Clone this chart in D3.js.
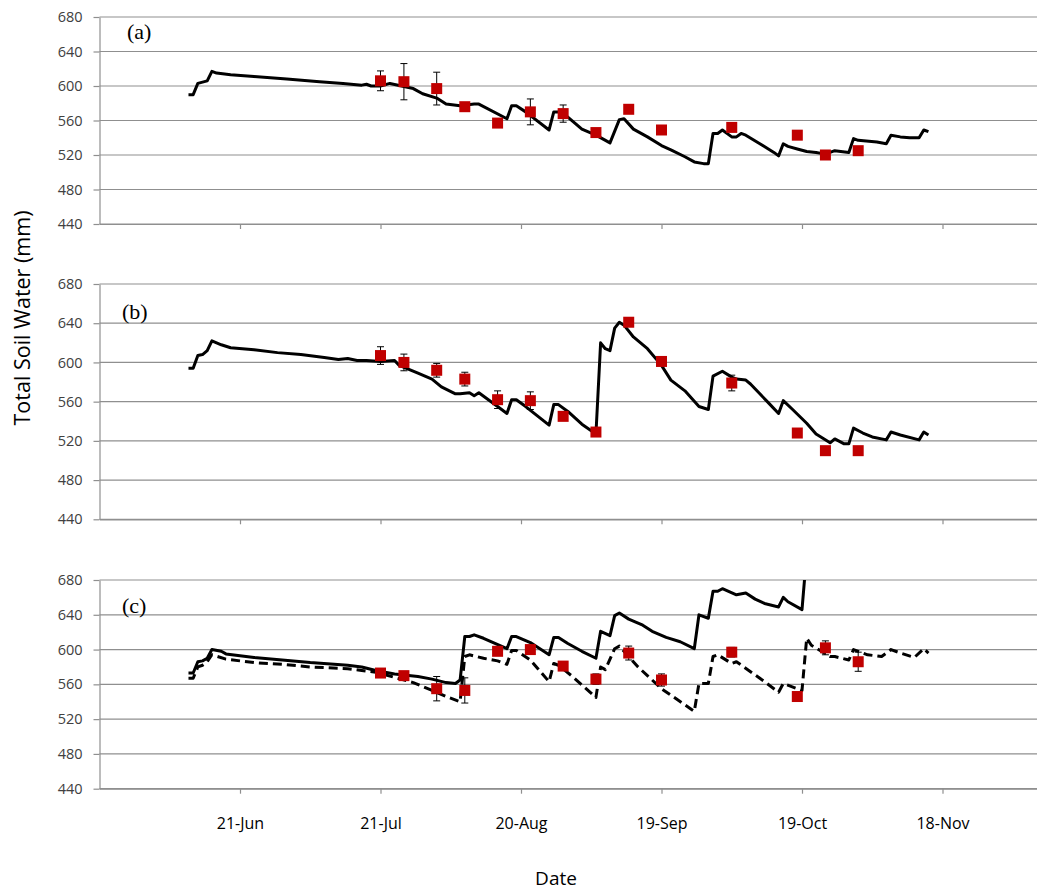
<!DOCTYPE html>
<html>
<head>
<meta charset="utf-8">
<script src="https://cdn.jsdelivr.net/npm/d3@7"></script>
<style>
  html, body { margin: 0; padding: 0; background: #fff; }
  svg { display: block; }
</style>
</head>
<body>
<svg id="chart" width="1037" height="893"></svg>
<script>
// x values are day of year (2010)
const tickDays   = [172, 202, 232, 262, 292, 322];
const tickLabels = ["21-Jun", "21-Jul", "20-Aug", "19-Sep", "19-Oct", "18-Nov"];
const yTicks     = [440, 480, 520, 560, 600, 640, 680];

// measurement dates (day of year)
const obsDays = [202, 207, 214, 220, 227, 234, 241, 248, 255, 262, 277, 291, 297, 304];

// (a) simulated total soil water, measured mean and error
const modelA = [[161,590],[162,590],[163,603],[165,606],[166,617],[167,615],[170,613],[175,611],[182,608],[189,605],[194,603],[198,601],[199,602],[200,600],[202,600],[204,603],[209,597],[211,591],[214,586],[216,579],[219,577],[222,579],[223,579],[229,562],[230,577],[231,577],[233,570],[238,549],[239,570],[240,570],[242,564],[245,550],[248,543],[251,534],[253,561],[254,562],[256,550],[259,541],[262,531],[264,526],[267,518],[269,512],[271,510],[272,510],[273,545],[274,545],[275,549],[277,541],[278,541],[279,545],[280,543],[283,533],[286,523],[287,519],[288,533],[289,530],[291,527],[293,524],[295,523],[297,521],[299,525],[302,523],[303,539],[304,537],[308,535],[310,533],[311,543],[313,541],[315,540],[317,540],[318,549],[319,547]];
const obsA = [606, 605, 597, 576, 557, 570, 568, 546, 573, 549, 552, 543, 520, 525];
const errA = [11.5, 21, 19, 2, 2, 15, 10, 2, 2, 2, 2, 2, 2, 2];

// (b)
const modelB = [[161,594],[162,594],[163,607],[164,608],[165,612],[166,622],[168,618],[170,615],[175,613],[180,610],[185,608],[190,605],[193,603],[195,604],[197,602],[199,602],[202,601],[205,602],[206,597],[210,589],[213,583],[215,575],[218,568],[219,568],[221,569],[222,566],[223,569],[227,555],[229,548],[230,562],[231,562],[233,555],[238,536],[239,557],[240,557],[242,550],[245,537],[248,527],[249,620],[250,614],[251,612],[252,635],[253,641],[254,638],[256,626],[259,614],[262,597],[264,582],[267,571],[270,555],[272,552],[273,586],[275,591],[277,585],[278,583],[280,582],[281,578],[283,568],[285,558],[287,548],[288,561],[290,552],[293,538],[295,527],[298,518],[299,522],[301,517],[302,517],[303,533],[305,528],[307,524],[310,521],[311,529],[313,526],[317,521],[318,529],[319,526]];
const obsB = [607, 600, 592, 583, 562, 561, 545, 529, 641, 601, 579, 528, 510, 510];
const errB = [9, 8.5, 7, 7, 9, 9, 3, 2, 2, 2, 8, 2, 2, 2];

// (c) two simulations: solid and dashed
const solidC = [[161,573],[162,573],[163,586],[164,587],[165,590],[166,600],[168,598],[169,595],[175,591],[181,588],[187,585],[195,582],[198,580],[201,576],[205,572],[210,569],[213,566],[216,562],[218,561],[219,565],[220,615],[221,615],[222,617],[224,613],[229,601],[230,615],[231,615],[234,608],[238,594],[239,614],[240,614],[242,607],[245,598],[248,590],[249,621],[251,616],[252,639],[253,642],[255,635],[258,628],[260,621],[263,614],[266,609],[269,601],[270,640],[272,636],[273,667],[274,667],[275,670],[278,663],[280,665],[282,658],[284,653],[287,649],[288,660],[289,655],[292,646],[293,710]];
const dashC = [[161,567],[162,567],[163,580],[164,582],[165,586],[166,594],[169,589],[175,585],[181,583],[187,580],[195,578],[198,576],[201,574],[205,568],[209,562],[213,553],[216,546],[219,540],[220,592],[221,594],[224,590],[227,587],[229,583],[230,599],[231,599],[234,588],[238,563],[239,584],[240,582],[243,569],[248,545],[249,580],[250,577],[252,601],[253,604],[257,580],[262,555],[269,529],[270,561],[272,561],[273,592],[274,594],[277,584],[278,586],[283,567],[287,551],[288,561],[292,553],[293,613],[294,605],[298,592],[299,592],[302,588],[303,600],[306,594],[309,592],[311,600],[313,596],[316,591],[318,601],[319,596]];
const obsC = [573, 570, 555, 553, 598, 600, 581, 566, 596, 565, 597, 546, 602, 586];
const errC = [2, 2, 14, 14.5, 2, 3, 2, 6, 8, 7, 5.5, 2, 8, 11];

const W = 1037;
const svg = d3.select("#chart");
const gridColor = "#8f8f8f";
const markerColor = "#c00000";

// 22-May .. 18-Dec, right part runs past the frame
const x = d3.scaleLinear().domain([142, 352]).range([99.5, 1083]);

const panels = [
  { tag: "(a)", top: 17,  bottom: 224,   lines: [{ d: modelA }],                 obs: obsA, err: errA, labelX: 127, labelY: 39 },
  { tag: "(b)", top: 284, bottom: 519.3, lines: [{ d: modelB }],                 obs: obsB, err: errB, labelX: 122, labelY: 319 },
  { tag: "(c)", top: 580, bottom: 788.7, lines: [{ d: solidC }, { d: dashC, dash: "9,5" }], obs: obsC, err: errC, labelX: 122, labelY: 613, labels: true }
];

const dateFmt = d => tickLabels[tickDays.indexOf(d)];

panels.forEach((p, i) => {
  const y = d3.scaleLinear().domain([440, 680]).range([p.bottom, p.top]);
  const g = svg.append("g");

  // horizontal gridlines
  g.selectAll("line.grid").data(yTicks).join("line")
    .attr("x1", x.range()[0]).attr("x2", x.range()[1])
    .attr("y1", d => y(d)).attr("y2", d => y(d))
    .attr("stroke", gridColor).attr("stroke-width", 1.2);

  // y axis
  const ya = g.append("g").attr("transform", `translate(${x.range()[0]},0)`)
    .call(d3.axisLeft(y).tickValues(yTicks).tickSize(6).tickSizeOuter(0).tickPadding(11));
  ya.select(".domain").attr("stroke", gridColor).attr("stroke-width", 1.2);
  ya.selectAll(".tick line").attr("stroke", gridColor).attr("stroke-width", 1.2);
  ya.selectAll(".tick text").attr("font-family", "'Open Sans', sans-serif")
    .attr("font-size", 14.5).attr("fill", "#404040");

  // x axis
  const xa = g.append("g").attr("transform", `translate(0,${p.bottom})`)
    .call(d3.axisBottom(x).tickValues(tickDays).tickSize(5).tickSizeOuter(0).tickPadding(24)
      .tickFormat(p.labels ? dateFmt : ""));
  xa.select(".domain").attr("stroke", gridColor).attr("stroke-width", 1.2);
  xa.selectAll(".tick line").attr("stroke", gridColor).attr("stroke-width", 1.2);
  xa.selectAll(".tick text").attr("font-family", "'Open Sans', sans-serif")
    .attr("font-size", 16).attr("fill", "#000");

  // clip to plot area
  const clipId = "clip" + i;
  svg.append("clipPath").attr("id", clipId).append("rect")
    .attr("x", x.range()[0]).attr("y", p.top)
    .attr("width", W - x.range()[0]).attr("height", p.bottom - p.top);

  const plot = g.append("g").attr("clip-path", `url(#${clipId})`);
  const line = d3.line().x(d => x(d[0])).y(d => y(d[1]));
  p.lines.forEach(s => {
    plot.append("path").datum(s.d)
      .attr("d", line)
      .attr("fill", "none").attr("stroke", "#000").attr("stroke-width", 3)
      .attr("stroke-linejoin", "round")
      .attr("stroke-dasharray", s.dash || null);
  });

  // error bars
  const obs = obsDays.map((d, k) => ({ day: d, v: p.obs[k], e: p.err[k] }));
  const eb = g.append("g").attr("stroke", "#000").attr("stroke-width", 1);
  eb.selectAll("line.v").data(obs).join("line")
    .attr("x1", d => x(d.day)).attr("x2", d => x(d.day))
    .attr("y1", d => y(d.v - d.e)).attr("y2", d => y(d.v + d.e));
  eb.selectAll("line.t").data(obs).join("line")
    .attr("x1", d => x(d.day) - 3.5).attr("x2", d => x(d.day) + 3.5)
    .attr("y1", d => y(d.v + d.e)).attr("y2", d => y(d.v + d.e));
  eb.selectAll("line.b").data(obs).join("line")
    .attr("x1", d => x(d.day) - 3.5).attr("x2", d => x(d.day) + 3.5)
    .attr("y1", d => y(d.v - d.e)).attr("y2", d => y(d.v - d.e));

  // measured points
  g.append("g").selectAll("rect").data(obs).join("rect")
    .attr("x", d => x(d.day) - 5.5).attr("y", d => y(d.v) - 5.5)
    .attr("width", 11).attr("height", 11)
    .attr("fill", markerColor);

  // panel tag
  g.append("text").attr("x", p.labelX).attr("y", p.labelY)
    .attr("font-family", "'Liberation Serif', 'Times New Roman', serif")
    .attr("font-size", 22).attr("fill", "#000").text(p.tag);
});

// axis titles
svg.append("text")
  .attr("transform", "translate(30,318) rotate(-90)")
  .attr("text-anchor", "middle")
  .attr("font-family", "'Open Sans', sans-serif").attr("font-size", 21.5)
  .attr("fill", "#000").text("Total Soil Water (mm)");

svg.append("text")
  .attr("x", 556).attr("y", 885).attr("text-anchor", "middle")
  .attr("font-family", "'Open Sans', sans-serif").attr("font-size", 19)
  .attr("fill", "#000").text("Date");
</script>
</body>
</html>
